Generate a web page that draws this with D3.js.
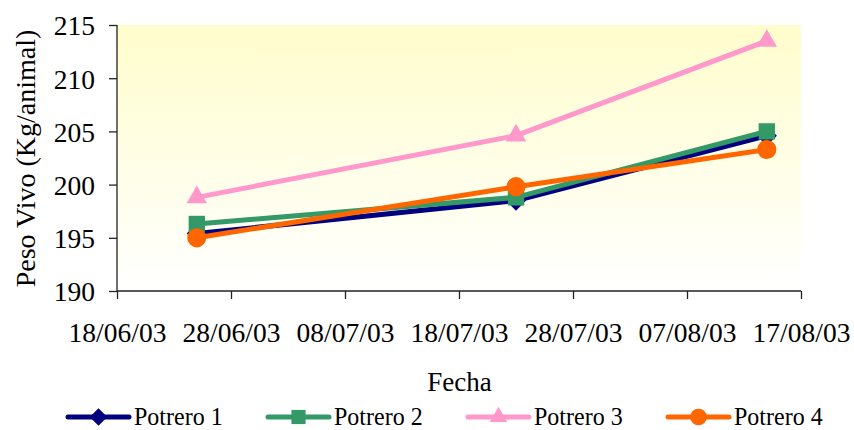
<!DOCTYPE html>
<html>
<head>
<meta charset="utf-8">
<script src="https://cdn.jsdelivr.net/npm/d3@7"></script>
<style>
  html, body { margin: 0; padding: 0; background: #ffffff; }
  svg { display: block; }
  text { font-family: "Liberation Serif", "Times New Roman", serif; fill: #000; }
</style>
</head>
<body>
<svg id="chart" width="854" height="430" font-family="Liberation Serif, Times New Roman, serif"></svg>
<script>
// Weighing dates and live weight per paddock
const fechas = ["2003-06-25", "2003-07-23", "2003-08-14"];
const potrero1 = [195.4, 198.5, 204.6];
const potrero2 = [196.3, 198.8, 205.0];
const potrero3 = [198.8, 204.6, 213.5];
const potrero4 = [195.0, 199.8, 203.3];
const seriesNames = ["Potrero 1", "Potrero 2", "Potrero 3", "Potrero 4"];
const xTickDates = ["2003-06-18", "2003-06-28", "2003-07-08", "2003-07-18", "2003-07-28", "2003-08-07", "2003-08-17"];
const yTicks = [190, 195, 200, 205, 210, 215];

const colors = ["#000080", "#339966", "#FF99CC", "#FF6600"];
const symbols = [d3.symbolDiamond2, d3.symbolSquare2, d3.symbolTriangle2, d3.symbolCircle];
const symbolSizes = [260, 340, 300, 290];

const parse = d3.utcParse("%Y-%m-%d");
const fmt = d3.utcFormat("%d/%m/%y");
const serif = "'Liberation Serif', 'Times New Roman', serif";

const svg = d3.select("#chart");
const m = { left: 117, right: 801, top: 25, bottom: 291 };

const x = d3.scaleUtc()
  .domain([parse(xTickDates[0]), parse(xTickDates[xTickDates.length - 1])])
  .range([m.left, m.right]);
const y = d3.scaleLinear().domain([190, 215]).range([m.bottom, m.top]);

// Plot background: pale yellow fading to white
const defs = svg.append("defs");
const grad = defs.append("linearGradient")
  .attr("id", "bg").attr("x1", 0).attr("y1", 0).attr("x2", 0).attr("y2", 1);
grad.append("stop").attr("offset", "0%").attr("stop-color", "#FFFDCC");
grad.append("stop").attr("offset", "100%").attr("stop-color", "#FFFFFF");
svg.append("rect")
  .attr("x", m.left).attr("y", m.top)
  .attr("width", m.right - m.left).attr("height", m.bottom - m.top)
  .attr("fill", "url(#bg)");

// Axes
const yAxis = d3.axisLeft(y).tickValues(yTicks).tickSize(8).tickPadding(14).tickFormat(d3.format("d"));
const gy = svg.append("g").attr("transform", `translate(${m.left},0)`).call(yAxis);
const xAxis = d3.axisBottom(x).tickValues(xTickDates.map(parse)).tickSize(8).tickPadding(23).tickFormat(fmt);
const gx = svg.append("g").attr("transform", `translate(0,${m.bottom})`).call(xAxis);

[gx, gy].forEach(g => {
  g.attr("font-family", null);
  g.select(".domain").attr("stroke", "#222").attr("stroke-width", 1.3);
  g.selectAll(".tick line").attr("stroke", "#222").attr("stroke-width", 1.3);
  g.selectAll(".tick text")
    .style("font-family", serif)
    .style("font-size", "27.5px").attr("fill", "#000");
});
gy.selectAll(".tick text").attr("dy", "0.36em");
gx.select(".domain").attr("d", `M${m.left},0H${m.right}`);
gy.select(".domain").attr("d", `M0,${m.bottom}V${m.top}`);

// Axis titles
svg.append("text")
  .attr("x", (m.left + m.right) / 2 + 0.5).attr("y", 391)
  .attr("text-anchor", "middle").style("font-family", serif).style("font-size", "27px").text("Fecha");
svg.append("text")
  .attr("transform", `translate(35,${(m.top + m.bottom) / 2 + 0.5}) rotate(-90)`)
  .attr("text-anchor", "middle").style("font-family", serif).style("font-size", "28px").text("Peso Vivo (Kg/animal)");

// Series lines with markers
const allSeries = [potrero1, potrero2, potrero3, potrero4];
const line = d3.line().x(d => x(d.date)).y(d => y(d.value));

allSeries.forEach((vals, i) => {
  const pts = vals.map((v, j) => ({ date: parse(fechas[j]), value: v }));
  svg.append("path")
    .datum(pts)
    .attr("fill", "none")
    .attr("stroke", colors[i])
    .attr("stroke-width", 5)
    .attr("stroke-linejoin", "round")
    .attr("d", line);
  svg.selectAll(null)
    .data(pts)
    .join("path")
    .attr("transform", d => `translate(${x(d.date)},${y(d.value)})`)
    .attr("d", d3.symbol(symbols[i], symbolSizes[i]))
    .attr("fill", colors[i]);
});

// Legend
const legend = svg.append("g");
seriesNames.forEach((name, i) => {
  const lx = 68 + i * 200;
  const ly = 417;
  const g = legend.append("g").attr("transform", `translate(${lx},${ly})`);
  g.append("line")
    .attr("x1", 0).attr("x2", 61).attr("y1", 0).attr("y2", 0)
    .attr("stroke", colors[i]).attr("stroke-width", 5).attr("stroke-linecap", "round");
  g.append("path")
    .attr("transform", "translate(30.5,0)")
    .attr("d", d3.symbol(symbols[i], symbolSizes[i] * 0.75))
    .attr("fill", colors[i]);
  g.append("text")
    .attr("transform", "translate(66,-1) scale(0.96,1)")
    .attr("dy", "0.35em")
    .style("font-family", serif)
    .style("font-size", "25px").text(name);
});
</script>
</body>
</html>
